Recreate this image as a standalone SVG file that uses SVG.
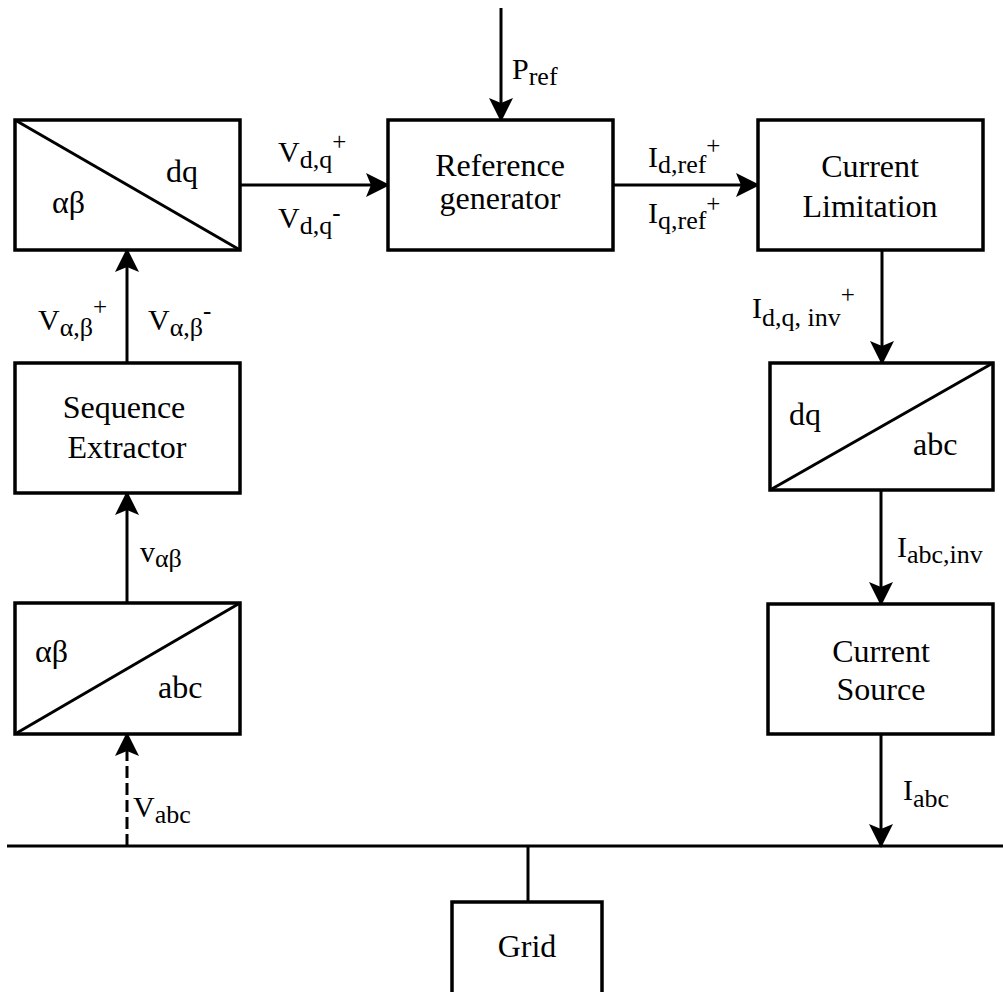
<svg xmlns="http://www.w3.org/2000/svg" width="1003" height="992" viewBox="0 0 1003 992" font-family="'Liberation Serif', 'DejaVu Serif', serif">
<defs>
<marker id="ah" markerWidth="24" markerHeight="24" viewBox="0 0 24 24" refX="22" refY="12" orient="auto" markerUnits="userSpaceOnUse">
<path d="M0,0 L24,12 L0,24 L5,12 Z" fill="#000"/>
</marker>
</defs>
<style>
.box{fill:#fff;stroke:#000;stroke-width:3.5}
.diag{stroke:#000;stroke-width:3;fill:none}
.ln{stroke:#000;stroke-width:3;fill:none}
.arr{stroke:#000;stroke-width:3;fill:none;marker-end:url(#ah)}
.dash{stroke-dasharray:12 5}
text{font-family:'Liberation Serif','DejaVu Serif',serif;font-size:30px;fill:#000}
.big{font-size:32px}
.c{text-anchor:middle}
.sub{font-size:26px}
.sup{font-size:25px}
</style>

<g id="connectors">
<line class="ln" x1="7" y1="846" x2="1003" y2="846"/>
<line class="ln" x1="528" y1="846" x2="528" y2="902"/>
<line class="arr" x1="501" y1="8" x2="501" y2="120"/>
<line class="arr" x1="240" y1="185" x2="388" y2="185"/>
<line class="arr" x1="613" y1="185" x2="758" y2="185"/>
<line class="arr" x1="127" y1="363" x2="127" y2="250"/>
<line class="arr" x1="127" y1="603" x2="127" y2="493"/>
<line class="arr dash" x1="127" y1="846" x2="127" y2="734"/>
<line class="arr" x1="882" y1="250" x2="882" y2="363"/>
<line class="arr" x1="881" y1="490" x2="881" y2="604"/>
<line class="arr" x1="881" y1="734" x2="881" y2="846"/>
</g>

<g id="labels">
<text x="512" y="79">P<tspan class="sub" dy="6">ref</tspan></text>
<text x="278" y="162">V<tspan class="sub" dy="6">d,q</tspan><tspan class="sup" dy="-18">+</tspan></text>
<text x="278" y="228">V<tspan class="sub" dy="6">d,q</tspan><tspan class="sup" dy="-13">-</tspan></text>
<text x="648" y="167">I<tspan class="sub" dy="6">d,ref</tspan><tspan class="sup" dy="-19">+</tspan></text>
<text x="648" y="223">I<tspan class="sub" dy="6">q,ref</tspan><tspan class="sup" dy="-17">+</tspan></text>
<text x="38" y="330">V<tspan class="sub" dy="6">α,β</tspan><tspan class="sup" dy="-21">+</tspan></text>
<text x="148" y="330">V<tspan class="sub" dy="6">α,β</tspan><tspan class="sup" dy="-17">-</tspan></text>
<text x="140" y="562">v<tspan class="sub" dy="5">αβ</tspan></text>
<text x="133" y="817">V<tspan class="sub" dy="6">abc</tspan></text>
<text x="752" y="318">I<tspan class="sub" dy="8">d,q, inv</tspan><tspan class="sup" dy="-23">+</tspan></text>
<text x="897" y="557">I<tspan class="sub" dy="6">abc,inv</tspan></text>
<text x="903" y="800">I<tspan class="sub" dy="7">abc</tspan></text>
</g>

<g id="n-ab-dq">
<rect class="box" x="15" y="120" width="225" height="130"/>
<line class="diag" x1="15" y1="120" x2="240" y2="250"/>
<text class="big" x="166" y="182">dq</text>
<text class="big" x="52" y="213">αβ</text>
</g>

<g id="n-refgen">
<rect class="box" x="388" y="120" width="225" height="130"/>
<text class="big c" x="500" y="176">Reference</text>
<text class="big c" x="500" y="209">generator</text>
</g>

<g id="n-curlim">
<rect class="box" x="758" y="120" width="225" height="130"/>
<text class="big c" x="870" y="177">Current</text>
<text class="big c" x="870" y="217">Limitation</text>
</g>

<g id="n-seq">
<rect class="box" x="15" y="363" width="225" height="130"/>
<text class="big c" x="124" y="418">Sequence</text>
<text class="big c" x="127" y="458">Extractor</text>
</g>

<g id="n-ab-abc">
<rect class="box" x="15" y="603" width="225" height="131"/>
<line class="diag" x1="15" y1="734" x2="240" y2="603"/>
<text class="big" x="35" y="662">αβ</text>
<text class="big" x="158" y="698">abc</text>
</g>

<g id="n-dq-abc">
<rect class="box" x="770" y="363" width="223" height="127"/>
<line class="diag" x1="770" y1="490" x2="993" y2="363"/>
<text class="big" x="789" y="425">dq</text>
<text class="big" x="913" y="455">abc</text>
</g>

<g id="n-cursrc">
<rect class="box" x="768" y="604" width="225" height="130"/>
<text class="big c" x="881" y="662">Current</text>
<text class="big c" x="881" y="700">Source</text>
</g>

<g id="n-grid">
<rect class="box" x="452" y="902" width="150" height="110"/>
<text class="big c" x="527" y="957">Grid</text>
</g>
</svg>
